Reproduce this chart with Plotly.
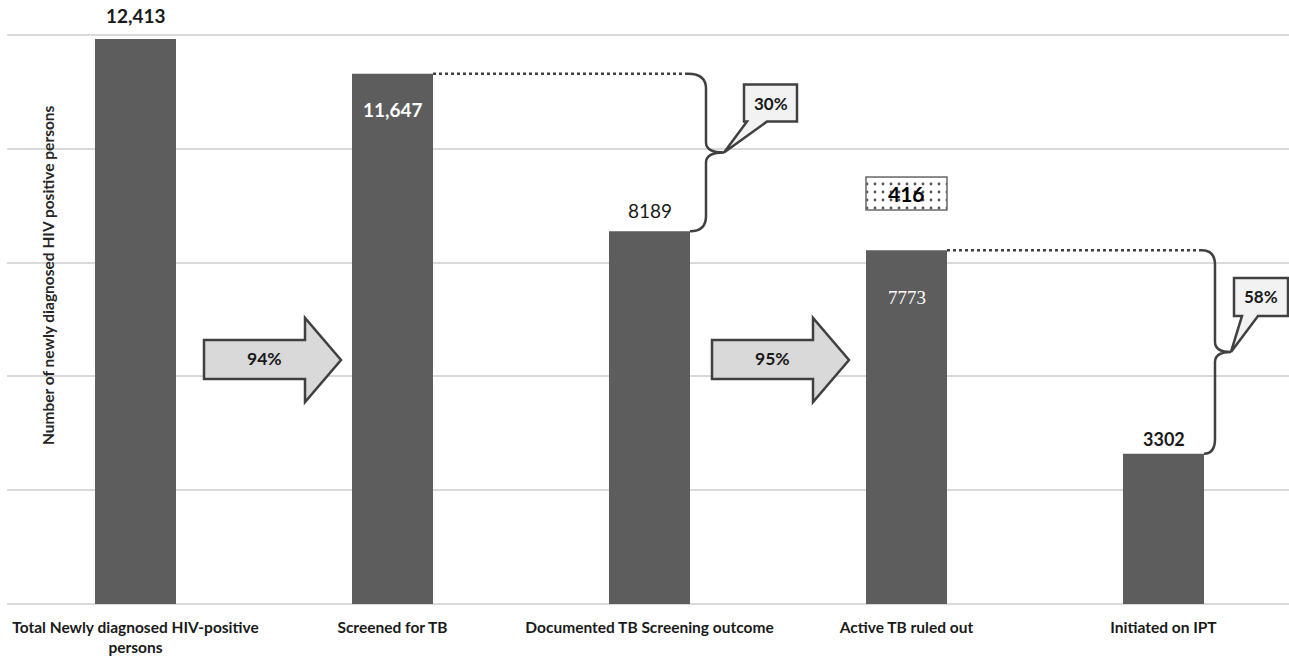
import plotly.graph_objects as go

# ---------------- data ----------------
categories = [
    "Total Newly diagnosed HIV-positive<br>persons",
    "Screened for TB",
    "Documented TB Screening outcome",
    "Active TB ruled out",
    "Initiated on IPT",
]
values = [12413, 11647, 8189, 7773, 3302]
value_labels = ["12,413", "11,647", "8189", "7773", "3302"]
step_pcts = ["94%", "95%"]          # block arrows: cat0->cat1, cat2->cat3
step_from = [0, 2]
drop_pcts = ["30%", "58%"]          # braces: cat1->cat2, cat3->cat4
drop_from = [1, 3]
excluded_value = 416                # box above "Active TB ruled out"
excluded_cat = 3

# ---------------- geometry helpers ----------------
W, H = 1289, 657
ML, MR, MT, MB = 7, 0, 12, 53
PX_PER_CAT = 257.0
PX_PER_UNIT = 0.04552
BW = 81 / PX_PER_CAT
Y0 = H - MB
xmax = (W - MR - ML) / PX_PER_CAT - 0.5
ymax = (Y0 - MT) / PX_PER_UNIT


def xp(x):
    return ML + (x + 0.5) * PX_PER_CAT


def yp(y):
    return Y0 - y * PX_PER_UNIT


def xd(px):
    return (px - ML) / PX_PER_CAT - 0.5


def yd(py):
    return (Y0 - py) / PX_PER_UNIT


def path(cmds):
    out = []
    for c in cmds:
        op = c[0]
        pts = c[1:]
        coords = []
        for i in range(0, len(pts), 2):
            coords.append(f"{xd(pts[i]):.5f},{yd(pts[i+1]):.3f}")
        out.append(op + " " + " ".join(coords))
    return " ".join(out)


DARK = "#404040"
TXT = "#1a1a1a"
FONT = "Lato"
SERIF = "Liberation Serif, Times New Roman, serif"

fig = go.Figure()

fig.add_trace(go.Bar(
    x=list(range(len(categories))), y=values, width=BW,
    marker=dict(color="#5d5d5d", line=dict(width=0)),
    hoverinfo="skip", showlegend=False,
))

# excluded box (dotted pattern)
box_bottom = values[excluded_cat] + (yp(values[excluded_cat]) - 210) / PX_PER_UNIT
box_h = 33 / PX_PER_UNIT
fig.add_trace(go.Bar(
    x=[excluded_cat], y=[box_h], base=[box_bottom], width=BW,
    marker=dict(color="white", line=dict(color="#6a6a6a", width=1.5),
                pattern=dict(shape=".", fgcolor="#555555", bgcolor="white",
                             size=8, solidity=0.1)),
    hoverinfo="skip", showlegend=False,
))

shapes = []
annotations = []

# value labels
label_cfg = [
    dict(shift=23, color=TXT, bold=True, fam=FONT, size=19),
    dict(shift=-36, color="white", bold=True, fam=FONT, size=19),
    dict(shift=21, color=TXT, bold=False, fam=FONT, size=19),
    dict(shift=-47, color="white", bold=False, fam=SERIF, size=19),
    dict(shift=15, color=TXT, bold=True, fam=FONT, size=18),
]
for i, (v, lab) in enumerate(zip(values, value_labels)):
    c = label_cfg[i]
    t = f"<b>{lab}</b>" if c["bold"] else lab
    annotations.append(dict(
        x=i, y=v, xref="x", yref="y", text=t, showarrow=False,
        yshift=c["shift"], font=dict(family=c["fam"], size=c["size"], color=c["color"]),
    ))

annotations.append(dict(
    x=excluded_cat, y=box_bottom + box_h / 2, xref="x", yref="y",
    text=f"<b>{excluded_value}</b>", showarrow=False,
    font=dict(family=FONT, size=21, color="black"),
))

# block arrows
arrow_left_off = [68.5, 62.5]
for k, i in enumerate(step_from):
    L = xp(i) + arrow_left_off[k]
    cy = 360
    pts = [
        ("M", L, cy - 20), ("L", L + 101, cy - 20), ("L", L + 101, cy - 42),
        ("L", L + 137, cy), ("L", L + 101, cy + 42), ("L", L + 101, cy + 19),
        ("L", L, cy + 19),
    ]
    d = path(pts) + " Z"
    shapes.append(dict(type="path", path=d, xref="x", yref="y",
                       fillcolor="#d9d9d9", line=dict(color=DARK, width=2.5)))
    annotations.append(dict(
        x=xd(L + 60), y=yd(cy - 2), xref="x", yref="y", text=f"<b>{step_pcts[k]}</b>",
        showarrow=False, font=dict(family=FONT, size=17.5, color=TXT),
    ))

# braces + callouts
brace_v_off = [16, 11]
brace_t_off = [34, 27]
box_off = [(20, 73, -68, -31, 23, 43), (3, 57, -74, -36, 11, 27)]
for k, i in enumerate(drop_from):
    xl = xp(i + BW / 2)
    xr = xp(i + 1 + BW / 2)
    yt = yp(values[i])
    yb = yp(values[i + 1])
    ym = (yt + yb) / 2
    v = xr + brace_v_off[k]
    t = xr + brace_t_off[k]
    r = 15
    r2 = 10
    shapes.append(dict(type="line", xref="x", yref="y",
                       x0=xd(xl), x1=xd(xr - 2), y0=yd(yt), y1=yd(yt),
                       line=dict(color=DARK, width=2.5, dash="dot")))
    d = path([
        ("M", xr - 2, yt), ("Q", v, yt, v, yt + r), ("L", v, ym - r2),
        ("Q", v, ym, t, ym), ("Q", v, ym, v, ym + r2), ("L", v, yb - r),
        ("Q", v, yb, xr, yb),
    ])
    shapes.append(dict(type="path", path=d, xref="x", yref="y",
                       line=dict(color=DARK, width=2.5)))
    bx0, bx1, by0, by1, p0, p1 = box_off[k]
    d2 = path([
        ("M", t + bx0, ym + by0), ("L", t + bx1, ym + by0), ("L", t + bx1, ym + by1),
        ("L", t + p1, ym + by1), ("L", t, ym), ("L", t + p0, ym + by1),
        ("L", t + bx0, ym + by1),
    ]) + " Z"
    shapes.append(dict(type="path", path=d2, xref="x", yref="y",
                       fillcolor="#f2f2f2", line=dict(color=DARK, width=2.5)))
    annotations.append(dict(
        x=xd(t + (bx0 + bx1) / 2), y=yd(ym + (by0 + by1) / 2), xref="x", yref="y",
        text=f"<b>{drop_pcts[k]}</b>", showarrow=False,
        font=dict(family=FONT, size=17, color=TXT),
    ))

# y-axis title
annotations.append(dict(
    x=(37 - ML) / (W - ML - MR), y=(Y0 - 275) / (Y0 - MT), xref="paper", yref="paper",
    text="<b>Number of newly diagnosed HIV positive persons</b>", textangle=-90,
    showarrow=False, font=dict(family=FONT, size=15.5, color="#262626"),
))

fig.update_layout(
    template="none",
    width=W, height=H,
    margin=dict(l=ML, r=MR, t=MT, b=MB, pad=0),
    paper_bgcolor="white", plot_bgcolor="white",
    barmode="overlay",
    showlegend=False,
    shapes=shapes,
    annotations=annotations,
    xaxis=dict(
        range=[-0.5, xmax], tickmode="array", tickvals=list(range(len(categories))),
        ticktext=[f"<b>{c}</b>" for c in categories], showgrid=False, zeroline=False,
        showline=False, ticks="", automargin=False, ticklabelstandoff=12,
        tickfont=dict(family=FONT, size=15.5, color=TXT), fixedrange=True,
    ),
    yaxis=dict(
        range=[0, ymax], dtick=2500, tick0=0, showgrid=True, gridcolor="#d9d9d9",
        gridwidth=1.5, zeroline=True, zerolinecolor="#d9d9d9", zerolinewidth=1.5,
        showticklabels=False, ticks="", showline=False, automargin=False, fixedrange=True,
    ),
)

fig.write_html("out.html", config={"displayModeBar": False})
